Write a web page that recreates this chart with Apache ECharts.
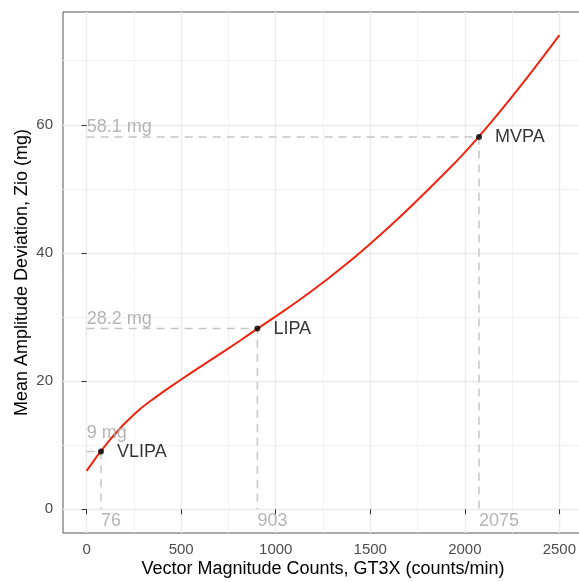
<!DOCTYPE html>
<html>
<head>
<meta charset="utf-8">
<script src="https://cdn.jsdelivr.net/npm/echarts@6/dist/echarts.min.js"></script>
<style>
html,body{margin:0;padding:0;background:#fff;}
#chart{width:579px;height:582px;}
</style>
</head>
<body>
<div id="chart"></div>
<script>
// ---- data ----
const curveX = [0, 125, 250, 375, 500, 625, 750, 875, 1000, 1125, 1250, 1375, 1500, 1625, 1750, 1875, 2000, 2125, 2250, 2375, 2500];
const curveY = [6.0, 10.9, 14.8, 17.7, 20.25, 22.7, 25.1, 27.6, 30.1, 32.65, 35.4, 38.3, 41.45, 44.75, 48.25, 51.9, 55.7, 59.9, 64.4, 69.1, 74.0];
const pointNames = ['VLIPA', 'LIPA', 'MVPA'];
const pointX = [76, 903, 2075];
const pointY = [9, 28.2, 58.1];
const xTicks = [0, 500, 1000, 1500, 2000, 2500];
const yTicks = [0, 20, 40, 60];
const xTitle = 'Vector Magnitude Counts, GT3X (counts/min)';
const yTitle = 'Mean Amplitude Deviation, Zio (mg)';

// ---- styles ----
const FONT = '"Liberation Sans", Arial, Helvetica, sans-serif';
const mgLift = [19, 10, 10];

const chart = echarts.init(document.getElementById('chart'), null, {renderer: 'canvas'});

const xMin = -125, xMax = 2625;
const yMin = -3.7, yMax = 77.6;

const series = [];
// dashed guide lines
pointX.forEach((x, i) => {
  series.push({
    type: 'line',
    data: [[0, pointY[i]], [x, pointY[i]], [x, 0]],
    symbol: 'none',
    silent: true,
    lineStyle: {color: '#c6c6c6', width: 1.5, type: [8, 6]},
    z: 2
  });
});
// curve
series.push({
  type: 'line',
  data: curveX.map((x, i) => [x, curveY[i]]),
  symbol: 'none',
  smooth: 0.5,
  lineStyle: {color: '#f0250f', width: 2},
  z: 3
});
// points with names
series.push({
  type: 'scatter',
  data: pointX.map((x, i) => [x, pointY[i]]),
  symbol: 'circle',
  symbolSize: 6,
  itemStyle: {color: '#000'},
  label: {
    show: true,
    position: 'right',
    distance: 13,
    formatter: p => pointNames[p.dataIndex],
    color: '#000',
    fontSize: 18,
    fontFamily: FONT
  },
  z: 5
});
// mg labels
series.push({
  type: 'scatter',
  data: pointY.map((y, i) => ({
    value: [0, y],
    label: {offset: [0, -mgLift[i]]}
  })),
  symbolSize: 0,
  silent: true,
  label: {
    show: true,
    position: [0, 0],
    align: 'left',
    verticalAlign: 'middle',
    formatter: p => pointY[p.dataIndex] + ' mg',
    color: '#a3a3a3',
    fontSize: 18,
    fontFamily: FONT
  },
  z: 4
});
// count labels
series.push({
  type: 'scatter',
  data: pointX.map(x => [x, 0]),
  symbolSize: 0,
  silent: true,
  label: {
    show: true,
    position: [0, 0],
    align: 'left',
    verticalAlign: 'middle',
    offset: [0, 12],
    formatter: p => String(pointX[p.dataIndex]),
    color: '#a3a3a3',
    fontSize: 18,
    fontFamily: FONT
  },
  z: 4
});

chart.setOption({
  animation: false,
  backgroundColor: '#fff',
  grid: {
    left: 63, top: 12, width: 520, height: 521,
    containLabel: false,
    outerBoundsMode: 'none',
    show: true,
    borderColor: '#555',
    borderWidth: 1,
    backgroundColor: 'transparent'
  },
  xAxis: {
    type: 'value',
    min: xMin, max: xMax,
    name: xTitle,
    nameLocation: 'middle',
    nameGap: 27,
    nameMoveOverlap: false,
    nameTextStyle: {color: '#000', fontSize: 18, fontFamily: FONT},
    axisLine: {show: false},
    axisTick: {show: true, length: 5, customValues: xTicks, lineStyle: {color: '#333'}},
    axisLabel: {
      customValues: xTicks,
      margin: 9,
      color: '#4d4d4d', fontSize: 15, fontFamily: FONT,
      formatter: v => xTicks.includes(v) ? String(v) : ''
    },
    splitLine: {show: true, lineStyle: {color: '#ebebeb', width: 1.4}},
    minorTick: {show: false, splitNumber: 2},
    minorSplitLine: {show: true, lineStyle: {color: '#f0f0f0', width: 0.9}}
  },
  yAxis: {
    type: 'value',
    min: yMin, max: yMax,
    name: yTitle,
    nameLocation: 'middle',
    nameGap: 32,
    nameMoveOverlap: false,
    nameTextStyle: {color: '#000', fontSize: 18, fontFamily: FONT},
    axisLine: {show: false},
    axisTick: {show: true, length: 5, customValues: yTicks, lineStyle: {color: '#333'}},
    axisLabel: {
      customValues: yTicks,
      margin: 10,
      color: '#4d4d4d', fontSize: 15, fontFamily: FONT,
      formatter: v => yTicks.includes(v) ? String(v) : ''
    },
    splitLine: {show: true, lineStyle: {color: '#ebebeb', width: 1.4}},
    minorTick: {show: false, splitNumber: 2},
    minorSplitLine: {show: true, lineStyle: {color: '#f0f0f0', width: 0.9}}
  },
  series: series
});
</script>
</body>
</html>
